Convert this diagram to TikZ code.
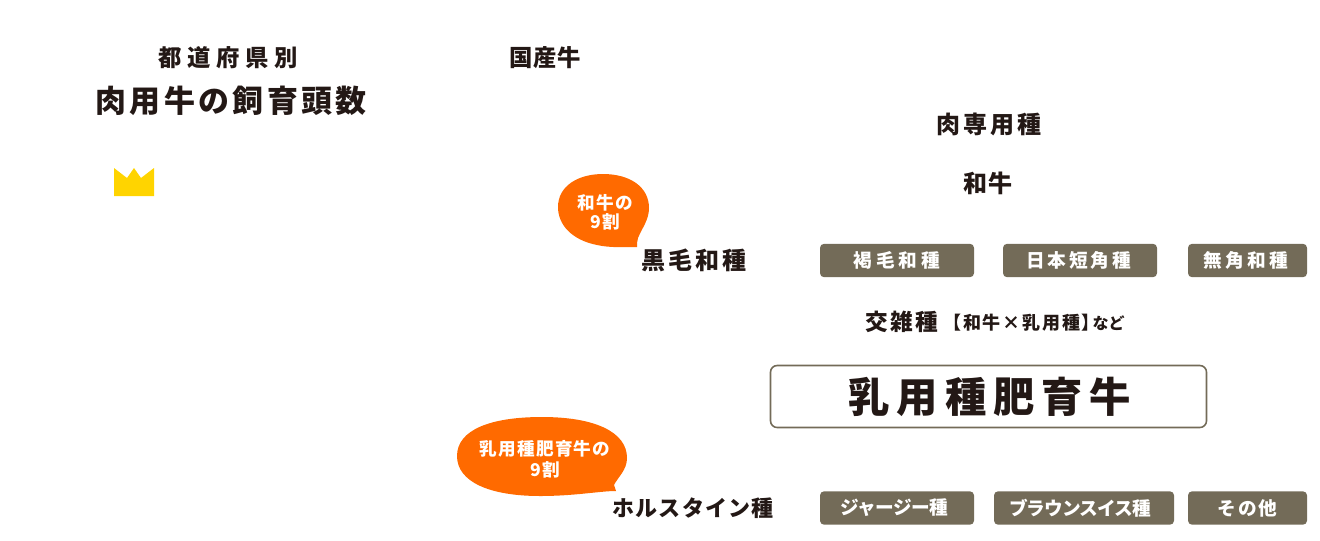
\documentclass[tikz,border=0pt]{standalone}
\usepackage{fontspec}
\usepackage{xcolor}
\setmainfont{Noto Sans CJK JP}
\definecolor{InkDark}{HTML}{231815}
\definecolor{TagBrown}{HTML}{736B58}
\definecolor{BubbleOrange}{HTML}{FF6A00}
\definecolor{CrownYellow}{HTML}{FFD400}
\newcommand{\jpset}[2]{\bfseries\fontsize{#1}{#1}\selectfont\addfontfeature{LetterSpace=#2}}

\begin{document}
\begin{tikzpicture}[x=0.75pt,y=-0.75pt,
    label/.style={inner sep=0pt,text=InkDark},
    tagbox/.style={fill=TagBrown,rounded corners=3pt,inner sep=0pt,text=white},
    bubbletext/.style={inner sep=0pt,text=white,align=center,font=\bfseries\fontsize{13.2}{14.3}\selectfont\addfontfeature{LetterSpace=7}}]
    \useasboundingbox (0,0) rectangle (1320,540);
    % titles
    \node[label,font=\jpset{17.5}{24}] (prefTitle) at (228,58) {都道府県別};
    \node[label,font=\jpset{23.2}{11}] (cattleTitle) at (231,101) {肉用牛の飼育頭数};
    \node[label,font=\jpset{17.5}{3}] (domestic) at (545,58) {国産牛};
    % crown
    \fill[CrownYellow] (114,168) -- (127,178) -- (134,168) -- (141,178) -- (154,168) -- (154,196) -- (114,196) -- cycle;
    % breed headers
    \node[label,font=\jpset{18}{12.5}] (beefBreed) at (989,124) {肉専用種};
    \node[label,font=\jpset{18}{8}] (wagyu) at (988,183) {和牛};
    \node[label,font=\jpset{18}{13}] (kuroge) at (694,260) {黒毛和種};
    \node[label,font=\jpset{16.5}{5}] (holstein) at (693,508) {ホルスタイン種};
    % cross breed
    \node[label,font=\jpset{17}{10}] (cross) at (902,322) {交雑種};
    \node[label,anchor=west,font=\jpset{13.5}{10}] (crossNote) at (943,323) {【和牛×乳用種】\hspace{-0.4em}{\fontsize{12}{12}\selectfont\addfontfeature{LetterSpace=0}など}};
    % dairy box
    \node[draw=TagBrown,line width=1.2pt,rounded corners=5pt,minimum width=327pt,minimum height=46.5pt,inner sep=0pt,label,font=\jpset{31}{16.5}] (dairy) at (988.5,396.5) {\hspace*{2pt}乳用種肥育牛};
    % tags
    \foreach \name/\cx/\cy/\w/\spc/\txt in {
      tagKatsu/897/260.5/154/21/褐毛和種,
      tagTan/1080/260.5/154/16/日本短角種\hspace*{2pt},
      tagMukaku/1247.5/260.5/119/18/無角和種\hspace*{3pt},
      tagJersey/897/508/154/-3/ジャージー種\hspace*{4pt},
      tagSwiss/1084/508/180/-5/ブラウンスイス種\hspace*{6pt},
      tagOther/1247.5/508/119/10/その他}{
      \node[tagbox,font=\jpset{14}{\spc},minimum width=0.75pt*\w,minimum height=25pt] (\name) at (\cx,\cy) {\txt};
    }
    % speech bubbles
    \fill[BubbleOrange] (637,247) .. controls (625,247) and (610,248) .. (597,245)
      .. controls (572,240) and (558,225) .. (558,207)
      .. controls (558,186) and (578,174) .. (603,174)
      .. controls (630,174) and (649,187) .. (649,208)
      .. controls (649,220) and (642,228) .. (638,238)
      .. controls (637,241) and (637,244) .. (637,247) -- cycle;
    \node[bubbletext] (bubbleWagyu) at (605,212.5) {和牛の\\9割};
    \fill[BubbleOrange] (616,491) .. controls (600,491) and (575,496) .. (540,496)
      .. controls (490,496) and (457,482) .. (457,456)
      .. controls (457,430) and (490,417) .. (542,417)
      .. controls (595,417) and (627,432) .. (627,458)
      .. controls (627,470) and (618,477) .. (614,485) -- cycle;
    \node[bubbletext] (bubbleDairy) at (545,459) {乳用種肥育牛の\\[1.5pt]9割};
\end{tikzpicture}
\end{document}
